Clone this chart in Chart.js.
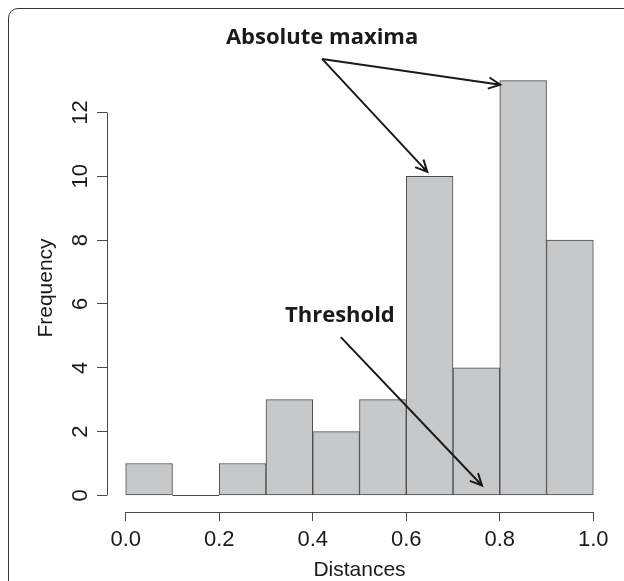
<!DOCTYPE html>
<html>
<head>
<meta charset="utf-8">
<script src="https://cdn.jsdelivr.net/npm/chart.js@4.4.0/dist/chart.umd.min.js"></script>
<style>
    html, body { margin: 0; padding: 0; background: #fff; }
    .wrap { position: relative; width: 624px; height: 581px; overflow: hidden; }
    .frame {
        position: absolute; left: 8px; top: 8px; width: 700px; height: 700px;
        border: 1.5px solid #333; border-radius: 10px; box-sizing: border-box;
    }
    canvas { position: absolute; left: 0; top: 0; }
</style>
</head>
<body>
<div class="wrap">
    <div class="frame"></div>
    <canvas id="histChart" width="624" height="581"></canvas>
</div>
<script>
// Histogram bins (left edges) and counts
const binStarts = [0.0, 0.1, 0.2, 0.3, 0.4, 0.5, 0.6, 0.7, 0.8, 0.9];
const binWidth = 0.1;
const counts = [1, 0, 1, 3, 2, 3, 10, 4, 13, 8];

// Axis ticks
const xTicks = [0.0, 0.2, 0.4, 0.6, 0.8, 1.0];
const yTicks = [0, 2, 4, 6, 8, 10, 12];

// Annotations (data coordinates)
const maximaLabel = { text: 'Absolute maxima', x: 0.42, y: 14.34 };
const maximaArrows = [
    { from: [0.42, 13.68], to: [0.645, 10.14] },
    { from: [0.42, 13.68], to: [0.801, 12.87] }
];
const thresholdLabel = { text: 'Threshold', x: 0.458, y: 5.62 };
const thresholdArrow = { from: [0.46, 4.96], to: [0.762, 0.31] };

const axisColor = '#4a4a4a';
const textColor = '#1a1a1a';
const sansFont = "'Liberation Sans', Arial, sans-serif";

// R-style axis lines: only from first to last tick, plus flat line for empty bins
const rAxes = {
    id: 'rAxes',
    afterDatasetsDraw(chart) {
        const { ctx, scales: { x, y } } = chart;
        ctx.save();
        ctx.strokeStyle = axisColor;
        ctx.lineWidth = 1;
        ctx.beginPath();
        const yl = Math.round(chart.chartArea.left) + 0.5;
        ctx.moveTo(yl, y.getPixelForValue(yTicks[0]));
        ctx.lineTo(yl, y.getPixelForValue(yTicks[yTicks.length - 1]));
        const xb = Math.round(chart.chartArea.bottom) + 0.5;
        ctx.moveTo(x.getPixelForValue(xTicks[0]), xb);
        ctx.lineTo(x.getPixelForValue(xTicks[xTicks.length - 1]), xb);
        ctx.stroke();

        ctx.beginPath();
        const y0 = Math.round(y.getPixelForValue(0)) + 0.5;
        counts.forEach((c, i) => {
            if (c === 0) {
                ctx.moveTo(x.getPixelForValue(binStarts[i]), y0);
                ctx.lineTo(x.getPixelForValue(binStarts[i] + binWidth), y0);
            }
        });
        ctx.stroke();
        ctx.restore();
    }
};

function drawArrow(ctx, x1, y1, x2, y2) {
    const ang = Math.atan2(y2 - y1, x2 - x1);
    const len = 13, spread = Math.PI / 7;
    ctx.beginPath();
    ctx.moveTo(x1, y1);
    ctx.lineTo(x2, y2);
    ctx.moveTo(x2 - len * Math.cos(ang - spread), y2 - len * Math.sin(ang - spread));
    ctx.lineTo(x2, y2);
    ctx.lineTo(x2 - len * Math.cos(ang + spread), y2 - len * Math.sin(ang + spread));
    ctx.stroke();
}

const annotations = {
    id: 'annotations',
    afterDraw(chart) {
        const { ctx, scales: { x, y } } = chart;
        ctx.save();
        ctx.fillStyle = textColor;
        ctx.strokeStyle = textColor;
        ctx.lineWidth = 2;
        ctx.font = "bold 22px 'Open Sans', sans-serif";
        ctx.textAlign = 'center';
        ctx.textBaseline = 'middle';
        [maximaLabel, thresholdLabel].forEach(l => {
            ctx.fillText(l.text, x.getPixelForValue(l.x), y.getPixelForValue(l.y));
        });
        [...maximaArrows, thresholdArrow].forEach(a => {
            drawArrow(ctx,
                x.getPixelForValue(a.from[0]), y.getPixelForValue(a.from[1]),
                x.getPixelForValue(a.to[0]), y.getPixelForValue(a.to[1]));
        });
        ctx.restore();
    }
};

const ctx = document.getElementById('histChart').getContext('2d');
const histChart = new Chart(ctx, {
    type: 'bar',
    data: {
        datasets: [{
            label: 'Frequency',
            data: binStarts.map((b, i) => ({ x: b + binWidth / 2, y: counts[i] })),
            backgroundColor: '#c7c8ca',
            borderColor: axisColor,
            borderWidth: 1,
            borderSkipped: false,
            barPercentage: 1,
            categoryPercentage: 1
        }]
    },
    options: {
        responsive: false,
        animation: false,
        layout: { padding: { top: 64, right: 12, left: 0, bottom: 0 } },
        plugins: {
            legend: { display: false },
            tooltip: { enabled: false }
        },
        scales: {
            x: {
                type: 'linear',
                min: -0.04,
                max: 1.04,
                offset: false,
                afterFit: s => { s.height = 69; },
                afterBuildTicks: s => { s.ticks = xTicks.map(v => ({ value: v })); },
                border: { display: false },
                grid: { offset: false, drawOnChartArea: false, drawTicks: true, tickLength: 9, color: axisColor },
                ticks: {
                    color: textColor,
                    font: { family: sansFont, size: 22 },
                    padding: 6,
                    maxRotation: 0,
                    callback: v => v.toFixed(1)
                },
                title: {
                    display: true,
                    text: 'Distances',
                    color: textColor,
                    font: { family: sansFont, size: 21, lineHeight: 1 },
                    padding: { top: 0, bottom: 0 }
                }
            },
            y: {
                min: -0.52,
                max: 13.52,
                afterFit: s => { s.width = 107; },
                afterBuildTicks: s => { s.ticks = yTicks.map(v => ({ value: v })); },
                border: { display: false },
                grid: { drawOnChartArea: false, drawTicks: true, tickLength: 10, color: axisColor },
                ticks: {
                    color: textColor,
                    font: { family: sansFont, size: 22 },
                    padding: 4,
                    minRotation: 90,
                    maxRotation: 90,
                    crossAlign: 'center'
                },
                title: {
                    display: true,
                    text: 'Frequency',
                    color: textColor,
                    font: { family: sansFont, size: 21, lineHeight: 1.2 },
                    padding: { top: 34, bottom: 0 }
                }
            }
        }
    },
    plugins: [rAxes, annotations]
});
</script>
</body>
</html>
